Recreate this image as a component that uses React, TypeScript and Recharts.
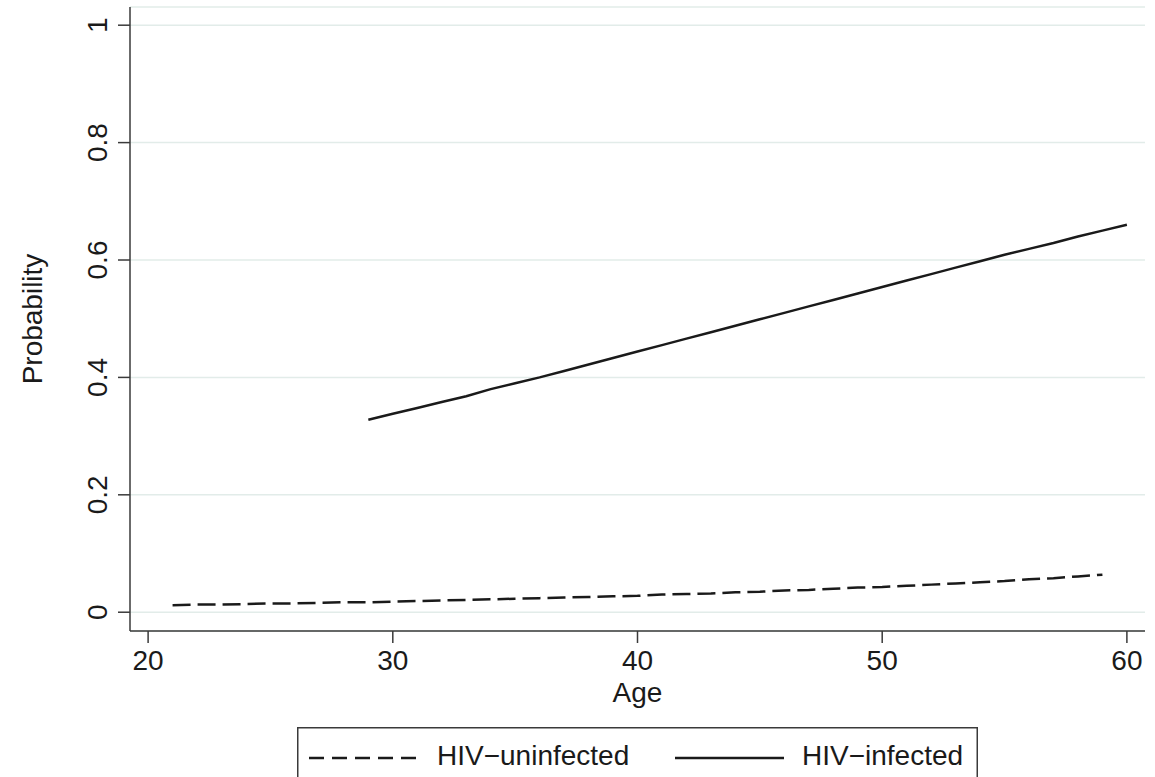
import { LineChart, Line, XAxis, YAxis, CartesianGrid } from "recharts";

// Predicted probability by age
const infectedAges = [
	29, 30, 31, 32, 33, 34, 35, 36, 37, 38, 39, 40, 41, 42, 43, 44, 45, 46, 47, 48, 49, 50, 51, 52, 53, 54, 55, 56, 57, 58, 59, 60,
];
const infectedProb = [
	0.328, 0.338, 0.348, 0.358, 0.368, 0.38, 0.39, 0.4, 0.411, 0.422, 0.433, 0.444, 0.455, 0.466, 0.477, 0.488, 0.499, 0.51,
	0.521, 0.532, 0.543, 0.554, 0.565, 0.576, 0.587, 0.598, 0.609, 0.619, 0.629, 0.64, 0.65, 0.66,
];
const uninfectedAges = [
	21, 22, 23, 24, 25, 26, 27, 28, 29, 30, 31, 32, 33, 34, 35, 36, 37, 38, 39, 40, 41, 42, 43, 44, 45, 46, 47, 48, 49, 50, 51, 52,
	53, 54, 55, 56, 57, 58, 59,
];
const uninfectedProb = [
	0.012, 0.013, 0.013, 0.014, 0.015, 0.015, 0.016, 0.017, 0.017, 0.018, 0.019, 0.02, 0.021, 0.022, 0.023, 0.024, 0.025,
	0.026, 0.027, 0.028, 0.03, 0.031, 0.032, 0.034, 0.035, 0.037, 0.038, 0.04, 0.042, 0.043, 0.045, 0.047, 0.049, 0.051,
	0.053, 0.056, 0.058, 0.061, 0.064,
];

const xTicks = [20, 30, 40, 50, 60];
const yTicks = [0, 0.2, 0.4, 0.6, 0.8, 1];
const yTickLabels = ["0", "0.2", "0.4", "0.6", "0.8", "1"];

const FONT = "'Liberation Sans', Arial, Helvetica, sans-serif";
const INK = "#1a1a1a";
const AXIS = "#3a3a3a";

const infectedData = infectedAges.map((age, i) => ({ age, p: infectedProb[i] }));
const uninfectedData = uninfectedAges.map((age, i) => ({ age, p: uninfectedProb[i] }));

const YTick = (props: any) => {
	const { x, y, payload } = props;
	const idx = yTicks.indexOf(payload.value);
	return (
		<text
			transform={`translate(${x - 9},${y}) rotate(-90)`}
			textAnchor="middle"
			fontSize={28}
			fontFamily={FONT}
			fill={INK}
		>
			{idx >= 0 ? yTickLabels[idx] : payload.value}
		</text>
	);
};

const AgeLabel = (props: any) => {
	const vb = props.viewBox;
	return (
		<text x={vb.x + vb.width / 2} y={vb.y + 71} textAnchor="middle" fontSize={28} fontFamily={FONT} fill={INK}>
			Age
		</text>
	);
};

const ProbLabel = (props: any) => {
	const vb = props.viewBox;
	return (
		<text
			transform={`translate(42,${vb.y + vb.height / 2}) rotate(-90)`}
			textAnchor="middle"
			fontSize={28}
			fontFamily={FONT}
			fill={INK}
		>
			Probability
		</text>
	);
};

function LegendBox() {
	return (
		<svg width={681} height={60} style={{ position: "absolute", left: 297, top: 727, overflow: "visible" }}>
			<rect x={0.75} y={0.75} width={679.5} height={80} fill="white" stroke={AXIS} strokeWidth={1.5} />
			<line x1={12} y1={31} x2={121} y2={31} stroke={INK} strokeWidth={2.5} strokeDasharray="15 8" />
			<text x={140} y={38} fontSize={28} fontFamily={FONT} fill={INK}>
				HIV−uninfected
			</text>
			<line x1={378} y1={31} x2={487} y2={31} stroke={INK} strokeWidth={2.5} />
			<text x={505} y={38} fontSize={28} fontFamily={FONT} fill={INK}>
				HIV−infected
			</text>
		</svg>
	);
}

export default function App() {
	return (
		<div style={{ position: "absolute", left: 0, top: 0, width: 1155, height: 777, background: "white", overflow: "hidden" }}>
			<LineChart width={1155} height={777} margin={{ top: 7, right: 10, bottom: 0, left: 0 }}>
				<CartesianGrid horizontal={true} vertical={false} stroke="#e2ece9" strokeWidth={1.5} />
				<XAxis
					type="number"
					dataKey="age"
					domain={[19.26, 60.74]}
					allowDataOverflow={true}
					ticks={xTicks}
					height={146}
					tickSize={12}
					tickMargin={7}
					stroke={AXIS}
					strokeWidth={1.5}
					tick={{ fontSize: 28, fontFamily: FONT, fill: INK }}
					label={<AgeLabel />}
				/>
				<YAxis
					type="number"
					domain={[-0.032, 1.031]}
					allowDataOverflow={true}
					ticks={yTicks}
					width={130}
					tickSize={12}
					stroke={AXIS}
					strokeWidth={1.5}
					tick={<YTick />}
					label={<ProbLabel />}
				/>
				<Line
					data={uninfectedData}
					dataKey="p"
					type="linear"
					stroke={INK}
					strokeWidth={2.5}
					strokeDasharray="18 7"
					dot={false}
					activeDot={false}
					isAnimationActive={false}
				/>
				<Line
					data={infectedData}
					dataKey="p"
					type="linear"
					stroke={INK}
					strokeWidth={2.5}
					dot={false}
					activeDot={false}
					isAnimationActive={false}
				/>
			</LineChart>
			<LegendBox />
		</div>
	);
}
